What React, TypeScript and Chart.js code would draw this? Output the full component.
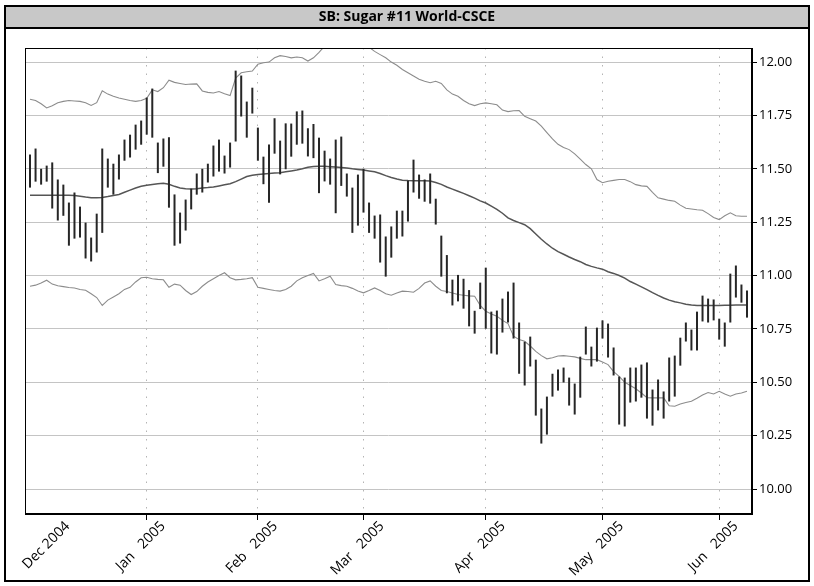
import React, { useEffect, useRef } from "react";
import { Chart, registerables } from "chart.js";
Chart.register(...registerables);

const TITLE = "SB: Sugar #11 World-CSCE";

const highs = [
  11.567, 11.595, 11.5, 11.515, 11.53, 11.45, 11.426, 11.342, 11.389, 11.323,
  11.248, 11.178, 11.29, 11.595, 11.548, 11.524, 11.567, 11.637, 11.66, 11.707,
  11.726, 11.834, 11.876, 11.623, 11.642, 11.648, 11.38, 11.295, 11.356, 11.407,
  11.478, 11.5, 11.524, 11.609, 11.637, 11.562, 11.623, 11.96, 11.937, 11.815,
  11.88, 11.693, 11.557, 11.614, 11.737, 11.632, 11.713, 11.712, 11.769, 11.773,
  11.69, 11.71, 11.646, 11.585, 11.548, 11.637, 11.651, 11.478, 11.412, 11.473,
  11.5, 11.342, 11.281, 11.286, 11.183, 11.23, 11.304, 11.304, 11.445, 11.543,
  11.473, 11.45, 11.478, 11.36, 11.187, 11.096, 10.981, 11.003, 10.985, 10.932,
  10.835, 10.967, 11.037, 10.831, 10.836, 10.892, 10.925, 10.967, 10.78, 10.69,
  10.714, 10.606, 10.377, 10.433, 10.54, 10.56, 10.569, 10.522, 10.494, 10.62,
  10.761, 10.667, 10.756, 10.79, 10.775, 10.663, 10.527, 10.522, 10.569, 10.569,
  10.583, 10.593, 10.466, 10.513, 10.457, 10.616, 10.625, 10.709, 10.78, 10.747,
  10.831, 10.906, 10.892, 10.888, 10.798, 10.78, 11.009, 11.047, 10.958, 10.93,
];

const lows = [
  11.412, 11.44, 11.426, 11.44, 11.314, 11.258, 11.28, 11.14, 11.173, 11.178,
  11.08, 11.066, 11.108, 11.2, 11.412, 11.379, 11.45, 11.538, 11.553, 11.59,
  11.613, 11.66, 11.646, 11.48, 11.51, 11.318, 11.14, 11.15, 11.211, 11.31,
  11.379, 11.389, 11.436, 11.464, 11.487, 11.478, 11.506, 11.628, 11.745, 11.646,
  11.759, 11.538, 11.428, 11.341, 11.571, 11.474, 11.498, 11.557, 11.613, 11.618,
  11.558, 11.55, 11.386, 11.441, 11.426, 11.292, 11.42, 11.37, 11.2, 11.234,
  11.295, 11.2, 11.173, 11.061, 10.995, 11.084, 11.173, 11.183, 11.253, 11.389,
  11.36, 11.346, 11.337, 11.239, 10.995, 10.917, 10.86, 10.879, 10.845, 10.762,
  10.728, 10.843, 10.751, 10.635, 10.63, 10.733, 10.78, 10.705, 10.54, 10.485,
  10.574, 10.344, 10.213, 10.255, 10.433, 10.461, 10.499, 10.391, 10.349, 10.428,
  10.63, 10.574, 10.597, 10.705, 10.616, 10.532, 10.302, 10.293, 10.405, 10.41,
  10.428, 10.33, 10.297, 10.368, 10.33, 10.41, 10.433, 10.578, 10.691, 10.649,
  10.649, 10.785, 10.78, 10.79, 10.7, 10.667, 10.78, 10.897, 10.873, 10.803,
];

const movingAvg = [
  11.376, 11.376, 11.376, 11.376, 11.376, 11.376, 11.376, 11.376, 11.375, 11.372,
  11.368, 11.365, 11.364, 11.366, 11.37, 11.375, 11.38, 11.39, 11.4, 11.41,
  11.418, 11.423, 11.427, 11.43, 11.432, 11.428, 11.418, 11.41, 11.407, 11.406,
  11.407, 11.41, 11.412, 11.415, 11.42, 11.425, 11.43, 11.44, 11.452, 11.464,
  11.47, 11.473, 11.476, 11.478, 11.48, 11.482, 11.486, 11.49, 11.494, 11.5,
  11.507, 11.511, 11.512, 11.512, 11.51, 11.508, 11.506, 11.504, 11.5, 11.497,
  11.494, 11.49, 11.486, 11.478, 11.468, 11.459, 11.452, 11.447, 11.445, 11.444,
  11.444, 11.444, 11.443, 11.436, 11.427, 11.415, 11.405, 11.395, 11.385, 11.374,
  11.363, 11.35, 11.34, 11.325, 11.31, 11.292, 11.27, 11.258, 11.248, 11.238,
  11.22, 11.195, 11.17, 11.148, 11.128, 11.112, 11.1, 11.087, 11.075, 11.065,
  11.052, 11.043, 11.036, 11.03, 11.018, 11.01, 11.0, 10.988, 10.972, 10.96,
  10.947, 10.934, 10.92, 10.907, 10.895, 10.885, 10.877, 10.872, 10.866, 10.862,
  10.86, 10.86, 10.86, 10.86, 10.86, 10.861, 10.861, 10.862, 10.862, 10.862,
];

const upperBand = [
  11.826, 11.82, 11.805, 11.785, 11.796, 11.81, 11.816, 11.82, 11.818, 11.816,
  11.81, 11.797, 11.81, 11.866, 11.85, 11.84, 11.832, 11.826, 11.82, 11.816,
  11.82, 11.83, 11.87, 11.862, 11.88, 11.915, 11.905, 11.9, 11.895, 11.897,
  11.898, 11.865, 11.858, 11.855, 11.862, 11.852, 11.843, 11.925, 11.95, 11.955,
  11.958, 11.99, 11.997, 12.0, 12.02, 12.03, 12.026, 12.02, 12.024, 12.02,
  12.005, 12.02, 12.045, 12.075, 12.1, 12.12, 12.13, 12.13, 12.12, 12.11,
  12.09, 12.07, 12.05, 12.035, 12.02, 12.0, 11.985, 11.965, 11.95, 11.935,
  11.92, 11.91, 11.903, 11.91, 11.9, 11.87, 11.85, 11.84, 11.82, 11.805,
  11.796, 11.805, 11.809, 11.805, 11.8, 11.775, 11.768, 11.772, 11.773, 11.746,
  11.735, 11.724, 11.7, 11.67, 11.64, 11.615, 11.6, 11.59, 11.57, 11.545,
  11.52, 11.5, 11.45, 11.435, 11.442, 11.446, 11.45, 11.45, 11.44, 11.426,
  11.42, 11.418, 11.39, 11.364, 11.358, 11.352, 11.348, 11.33, 11.315, 11.312,
  11.308, 11.306, 11.29, 11.272, 11.262, 11.28, 11.294, 11.28, 11.278, 11.278,
];

const lowerBand = [
  10.95, 10.955, 10.965, 10.978, 10.96, 10.952, 10.948, 10.944, 10.942, 10.935,
  10.931, 10.915, 10.897, 10.86, 10.885, 10.9, 10.915, 10.935, 10.945, 10.97,
  10.99, 10.992, 10.985, 10.982, 10.98, 10.945, 10.96, 10.955, 10.93, 10.911,
  10.925, 10.95, 10.97, 10.985, 11.0, 11.013, 10.99, 10.98, 10.982, 10.985,
  10.99, 10.945, 10.94, 10.935, 10.93, 10.927, 10.935, 10.95, 10.975, 10.99,
  11.0, 11.01, 10.975, 10.985, 10.997, 10.958, 10.953, 10.95, 10.94, 10.928,
  10.919, 10.93, 10.942, 10.93, 10.915, 10.908, 10.918, 10.927, 10.925, 10.922,
  10.94, 10.965, 10.975, 10.95, 10.93, 10.925, 10.918, 10.911, 10.908, 10.905,
  10.903, 10.86, 10.833, 10.82, 10.81, 10.79, 10.775, 10.716, 10.7, 10.692,
  10.67, 10.645, 10.625, 10.61, 10.615, 10.623, 10.625, 10.622, 10.619, 10.612,
  10.606, 10.606, 10.606, 10.595, 10.583, 10.55, 10.528, 10.5, 10.485, 10.47,
  10.45, 10.428, 10.427, 10.427, 10.427, 10.39, 10.388, 10.398, 10.405, 10.411,
  10.425, 10.44, 10.452, 10.445, 10.458, 10.445, 10.435, 10.445, 10.45, 10.458,
];

const monthTickIdx = [21, 41, 60, 82, 103, 124];
const monthLabelIdx = [0, 21, 41, 60, 82, 103, 124];
const monthLabels = ["Dec 2004", "Jan   2005", "Feb   2005", "Mar   2005", "Apr   2005", "May   2005", "Jun   2005"];
const yTickValues = [10.0, 10.25, 10.5, 10.75, 11.0, 11.25, 11.5, 11.75, 12.0];

const W = 814;
const H = 586;
const FONT = '"Open Sans", "Noto Sans", sans-serif';

export default function App() {
  const ref = useRef<HTMLCanvasElement>(null);

  useEffect(() => {
    const canvas = ref.current;
    if (!canvas) return;

    const framePlugin = {
      id: "frame",
      beforeDraw(chart: any) {
        const ctx = chart.ctx;
        ctx.save();
        ctx.fillStyle = "#ffffff";
        ctx.fillRect(0, 0, W, H);
        ctx.fillStyle = "#c8c8c8";
        ctx.fillRect(5, 6, 804, 21);
        ctx.fillStyle = "#000";
        ctx.font = `bold 14px ${FONT}`;
        ctx.textAlign = "center";
        ctx.textBaseline = "middle";
        ctx.fillText(TITLE, W / 2, 17);
        ctx.restore();
      },
      afterDraw(chart: any) {
        const ctx = chart.ctx;
        const a = chart.chartArea;
        ctx.save();
        ctx.strokeStyle = "#000";
        ctx.lineWidth = 1;
        ctx.strokeRect(Math.round(a.left) + 0.5, Math.round(a.top) + 0.5, Math.round(a.right - a.left) - 1, Math.round(a.bottom - a.top) - 1);
        ctx.lineWidth = 2;
        ctx.strokeRect(5, 6, 804, 575);
        ctx.fillStyle = "#000";
        ctx.fillRect(5, 27, 804, 2);
        const xs = chart.scales.x;
        ctx.font = `14px ${FONT}`;
        ctx.fillStyle = "#000";
        ctx.textAlign = "center";
        ctx.textBaseline = "middle";
        monthLabels.forEach((lab, k) => {
          const px = xs.getPixelForValue(monthLabelIdx[k]);
          const w = ctx.measureText(lab).width;
          const half = (w / 2 + 7) * Math.SQRT1_2;
          const cx = Math.max(px - 6, 20 + half);
          const cy = a.bottom + 5 + half;
          ctx.save();
          ctx.translate(cx, cy);
          ctx.rotate(-Math.PI / 4);
          ctx.fillText(lab, 0, 0);
          ctx.restore();
        });
        ctx.restore();
      },
    };

    const line = (vals: number[], color: string, width: number) => ({
      type: "line" as const,
      data: vals.map((y, i) => ({ x: i, y })),
      borderColor: color,
      borderWidth: width,
      pointRadius: 0,
      tension: 0,
      fill: false,
    });

    const chart = new Chart(canvas, {
      type: "bar",
      data: {
        datasets: [
          { ...line(upperBand, "#8c8c8c", 1.1), order: 3 },
          { ...line(lowerBand, "#8c8c8c", 1.1), order: 3 },
          { ...line(movingAvg, "#555555", 1.5), order: 2 },
          {
            type: "bar",
            data: highs.map((h, i) => ({ x: i, y: [lows[i], h] })),
            backgroundColor: "#262626",
            borderWidth: 0,
            inflateAmount: 0,
            barThickness: 2,
            order: 1,
          } as any,
        ],
      },
      options: {
        animation: false,
        responsive: false,
        devicePixelRatio: 1,
        events: [],
        layout: { padding: { left: 25, top: 48, right: 0, bottom: 0 } },
        plugins: { legend: { display: false }, title: { display: false }, tooltip: { enabled: false } },
        scales: {
          x: {
            type: "linear",
            min: -0.9,
            max: 129.9,
            offset: false,
            afterBuildTicks: (s: any) => {
              s.ticks = monthTickIdx.map((v) => ({ value: v }));
            },
            afterFit: (s: any) => {
              s.height = 72;
            },
            ticks: { display: false },
            grid: {
              display: true,
              drawOnChartArea: true,
              color: "#b4b4b4",
              lineWidth: 1,
              tickColor: "#000",
              tickLength: 6,
              tickWidth: 1,
              tickBorderDash: [],
              offset: false,
            },
            border: { display: true, color: "#000", width: 1, dash: [1.5, 7] },
          },
          y: {
            type: "linear",
            position: "right",
            min: 9.883,
            max: 12.066,
            afterBuildTicks: (s: any) => {
              s.ticks = yTickValues.map((v) => ({ value: v }));
            },
            afterFit: (s: any) => {
              s.width = 62;
            },
            ticks: {
              color: "#000",
              font: { family: FONT, size: 13 },
              padding: 2,
              callback: (v: any) => Number(v).toFixed(2),
            },
            grid: {
              color: "#c4c4c4",
              lineWidth: 1,
              tickColor: "#000",
              tickLength: 5,
            },
            border: { display: true, color: "#000", width: 1 },
          },
        },
      } as any,
      plugins: [framePlugin],
    } as any);

    return () => chart.destroy();
  }, []);

  return (
    <div style={{ position: "fixed", left: 0, top: 0, width: W, height: H, background: "#fff" }}>
      <canvas ref={ref} width={W} height={H} style={{ width: W, height: H, display: "block" }} />
    </div>
  );
}
